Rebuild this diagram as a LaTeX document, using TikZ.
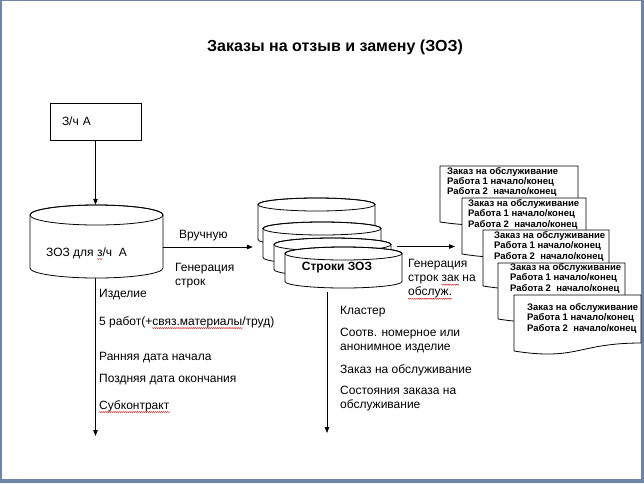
\documentclass[tikz,border=0pt]{standalone}
\usepackage{fontspec}
\setmainfont{Liberation Sans}
\usepackage{tikz}
\usetikzlibrary{positioning,arrows.meta}
\definecolor{ramka}{HTML}{6E84A8}
\definecolor{oshibka}{HTML}{D01818}
\newsavebox\spellbox
\newcommand\volna{\tikz[x=1pt,y=1pt,baseline=0pt]{\useasboundingbox (0,0) rectangle (2,0.01);
  \draw[oshibka, line width=0.45pt, line cap=round] (0,-2.4) -- (1,-3.4) -- (2,-2.4);}}
\newcommand\spell[1]{\sbox\spellbox{#1}\rlap{\hbox to\wd\spellbox{\xleaders\hbox{\volna}\hfil}}\usebox\spellbox}

\begin{document}
\begin{tikzpicture}[
  x=1pt, y=-1pt,
  font=\fontsize{12}{14}\selectfont,
  tekst/.style={anchor=west, align=left, inner sep=0pt},
  kontur/.style={inner sep=0pt},
  baraban/.style={draw, fill=white, line width=0.8pt},
  strelka/.style={-{Triangle[length=6pt,width=4.5pt]}, line width=0.8pt},
  list/.style={draw, fill=white, line width=0.8pt},
  listtekst/.style={anchor=north west, align=left, inner sep=0pt, font=\bfseries\fontsize{9.5}{10.2}\selectfont}
]
  % slide frame
  \fill[ramka] (0,0) rectangle (644,483);
  \fill[white] (2,1) rectangle (641,479);
  \useasboundingbox (0,0) rectangle (644,483);

  \node[font=\bfseries\fontsize{16}{19}\selectfont] (titul) at (335,47) {Заказы на отзыв и замену (ЗОЗ)};

  % cylinders: name / centre x / top / width / height / end radius
  \foreach \n/\x/\y/\w/\h/\r in {zoz/96.5/205/133/73/10, c1/316.5/198/117/48/6.5, c2/322/222/118/42/6.5,
                                 c3/332.5/238/117/38/6.5, c4/343.5/247/117/41/6.5}{
    \draw[baraban] ({\x-\w/2},{\y+\r}) -- ({\x-\w/2},{\y+\h-\r})
      arc[start angle=180, end angle=0, x radius=\w/2, y radius=\r] -- ({\x+\w/2},{\y+\r})
      arc[start angle=0, end angle=-180, x radius=\w/2, y radius=\r] -- cycle;
    \draw[line width=0.8pt] (\x,{\y+\r}) ellipse[x radius=\w/2, y radius=\r];
    \node[kontur, minimum width=\w pt, minimum height=\h pt] (\n) at (\x,{\y+\h/2}) {};
  }

  % part and its orders
  \node[draw, line width=0.8pt, minimum width=91pt, minimum height=37pt, text width=67pt,
        inner xsep=12pt, align=left] (zch) at (95.5,121.5) {З/ч А};
  \node[tekst] (zozlbl) at (46,253) {ЗОЗ для \spell{з}/ч~~А};
  \draw[strelka] (zch.south) -- (zch.south |- zoz.north);
  \coordinate (niz1) at (zch.south |- 0,436);
  \draw[strelka] (zch.south |- zoz.south) -- (niz1);

  \node[tekst] (izd) at (99,295) {Изделие};
  \node[tekst] (rab) at (99,322) {5 работ(+\spell{связ.материалы}/труд)};
  \node[tekst] (rann) at (99,358) {Ранняя дата начала};
  \node[tekst] (pozd) at (99,380) {Поздняя дата окончания};
  \node[tekst] (subk) at (99,406) {\spell{Субконтракт}};

  % order lines
  \node[font=\bfseries\fontsize{12}{14}\selectfont] (c4lbl) at (337,268) {Строки ЗОЗ};
  \draw[strelka, shorten >=10pt] ([yshift=-5.5pt]zoz.east) -- ([yshift=-5.5pt]zoz.east -| c2.west);
  \node[tekst] (vruch) at (179,236) {Вручную};
  \node[tekst] (gen1) at (175,275.5) {Генерация\\строк};

  \coordinate (niz2) at (327,433);
  \draw[strelka, shorten <=4pt] (c4.south -| niz2) -- (niz2);

  \node[tekst] (klas) at (340,312) {Кластер};
  \node[tekst] (soot) at (340,340) {Соотв. номерное или\\анонимное изделие};
  \node[tekst] (zak) at (340,370) {Заказ на обслуживание};
  \node[tekst] (sost) at (340,398.5) {Состояния заказа на\\обслуживание};

  % service orders
  \foreach \n/\x/\y/\w/\dx/\dy in {1/440/166/138/7/1, 2/462/198/124/6/1.5, 3/483/230/126/11/1.5,
                                   4/498/263/127/12/0.5, 5/514/295/127/13/8.5}{
    \draw[list] (\x,\y) -- ({\x+\w},\y) -- ({\x+\w},{\y+48})
      .. controls ({\x+\w/2},{\y+48}) and ({\x+\w/2},{\y+66}) .. (\x,{\y+56}) -- cycle;
    \node[listtekst] (d\n) at ({\x+\dx},{\y+\dy})
      {Заказ на обслуживание\\Работа 1 начало/конец\\Работа 2~ начало/конец};
  }
  \coordinate (vyhod) at ([xshift=6pt,yshift=10.5pt]c3.east);
  \draw[strelka, shorten >=13pt] (vyhod) -- (vyhod -| d2.west);
  \node[tekst] (gen2) at (408,279) {Генерация\\строк \spell{зак} на\\\spell{обслуж.}};
\end{tikzpicture}
\end{document}
